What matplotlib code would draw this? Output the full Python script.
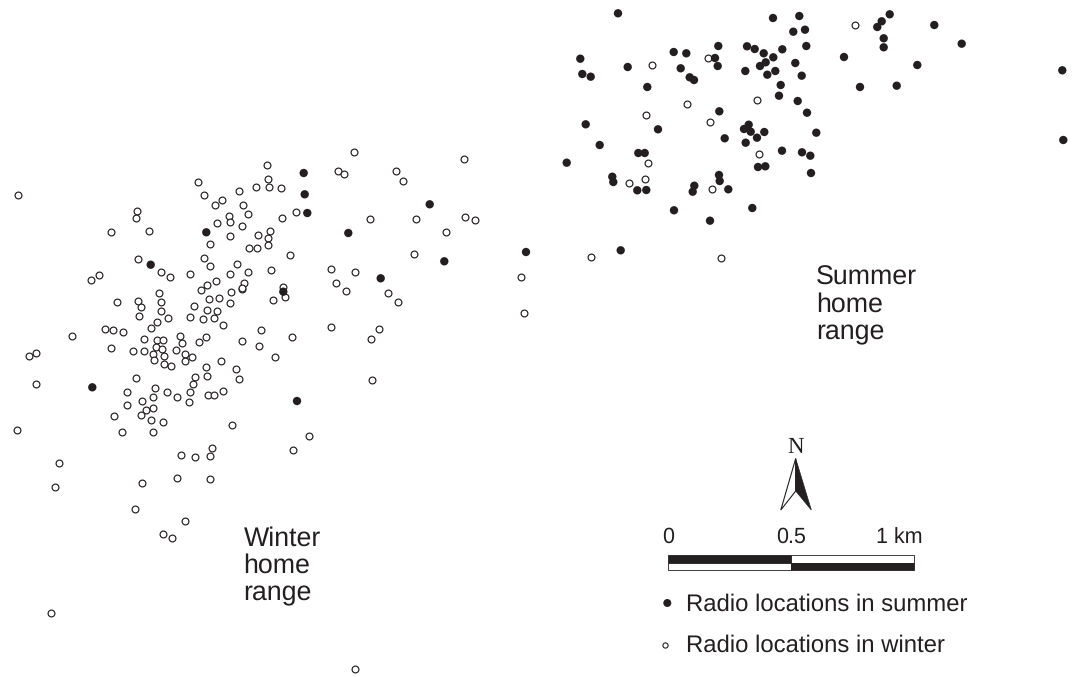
import matplotlib
matplotlib.use('Agg')
import matplotlib.pyplot as plt
from matplotlib.patches import Polygon, Rectangle

# radio locations (image pixels, y pointing down)
winter_x = [18.3, 197.7, 204.3, 215.3, 222, 239.3, 255.7, 266.5, 268.3, 268.5, 243, 248, 229, 230, 217, 241.7, 230,
            209.7, 258, 269.5, 268, 268.3, 249.3, 257.3, 137, 136.3, 111.3, 148.7, 138, 161.3, 170.3, 189.7, 203.7,
            210.3, 236.7, 230, 247.7, 270.5, 216.3, 207.3, 201, 243.7, 242.3, 242, 231, 209.3, 218.7, 230, 99.3, 90.7,
            158.7, 117, 138.3, 161.3, 141.3, 193.7, 207.3, 217.3, 161.3, 168.3, 139.3, 190, 203.3, 213.7, 222.7,
            157, 150.7, 105.3, 112.7, 123.3, 72.3, 261, 241.5, 258.7, 206.3, 198.7, 180.3, 181.7, 144.3, 157.3, 163,
            156.3, 162.3, 110.7, 133, 144.3, 152.7, 154, 164.3, 163.7, 171.3, 176.3, 185, 192, 185, 221, 36.3, 29.3,
            36, 206, 207, 236.3, 238.7, 195, 192.7, 190, 136.3, 154.7, 126.7, 152.7, 167, 176.7, 207.7, 213.7, 222.7,
            189, 141.7, 126.7, 153, 145.7, 141, 114, 150.7, 162.7, 122.3, 153, 231.7, 17.3, 212.3, 181.3, 195, 210.3,
            59.3, 354.3, 464.3, 337.7, 343.7, 395.7, 403.3, 280.7, 296, 281.7, 370.3, 416, 464.7, 475.3, 446, 290.3,
            413.7, 331.3, 355, 335.7, 345.7, 387.7, 398, 521.3, 283.3, 284.7, 273, 524.3, 292, 331.3, 379, 371.3,
            274.7, 372.3, 308.7, 293.3, 55, 177.3, 210.3, 142, 134.7, 185, 163.3, 171.7, 51, 354.7,
            707.7, 651.7, 757, 686.7, 646, 710, 759.3, 647.7, 645, 629, 712, 591.3, 720.7, 855]
winter_y = [195, 181.7, 194.7, 205.3, 200.3, 190.7, 187.3, 165, 178.8, 186.7, 205, 214, 216.3, 222, 223, 226.3, 236.3,
            244.3, 235, 231, 237.5, 245, 248.3, 248.3, 210.7, 218, 231.7, 231.3, 259, 271.7, 277.3, 274, 257.7,
            265.7, 263.7, 274.3, 272.3, 270.3, 281.3, 285.3, 290, 283, 288.7, 288, 292, 299, 298.3, 303, 274.7, 280.3,
            293, 301.7, 301.3, 302.3, 307.3, 306.3, 310, 310.5, 311, 317.7, 315.7, 316.7, 319.3, 318.3, 325.3,
            321.7, 328.3, 329, 330, 331.7, 336, 329.5, 341.2, 345.7, 336.7, 342.3, 336, 342.7, 338.7, 340, 340.3,
            347.3, 349, 348.3, 351, 351, 354, 360, 356, 364, 366, 350, 353.7, 357, 361.3, 361, 352.7, 356.3,
            384.3, 366.7, 375.7, 369, 379.3, 377.3, 384, 392, 377.7, 388, 392.3, 396.7, 392, 396.7, 395, 395, 391.3,
            402, 401, 404.7, 408, 409.7, 415, 415.7, 419.7, 422.3, 432.4, 431.5, 425.3, 430, 447.7, 454.7, 456.7, 456.3,
            463.3, 152.3, 159, 171.3, 174, 170.7, 181, 187.7, 212, 217.7, 219, 218.7, 216.7, 220, 231.7, 254.7,
            254, 268.7, 271.7, 283.3, 291.3, 292.7, 302.2, 276.7, 287, 296.7, 300.2, 313, 337.3, 327, 328.7, 338.7,
            357.3, 380.3, 436, 449.7, 486.7, 478, 479.3, 483, 509.3, 520.7, 533.7, 537.7, 613, 669.3,
            57.7, 64.7, 100.3, 103.7, 115.3, 122.3, 153.7, 162.7, 178.7, 183.3, 188.7, 256.7, 258, 25]

summer_x = [206.3, 150.7, 92.3, 303.7, 304.7, 307.3, 348.3, 429.7, 444.3, 380.7, 526, 283.3, 297,
            618, 773, 799.3, 793.3, 805, 718.3, 673.7, 686.3, 715, 747, 754.7, 763.7, 782.3, 806.3, 773.3, 765.7,
            760, 795.3, 580.3, 582.3, 590.7, 627.7, 680.7, 717.7, 745.3, 767.3, 775.3, 801.7, 689.7, 694, 647.3,
            780.7, 779, 797.7, 807, 719.3, 585.7, 658, 748.7, 744, 750.7, 764.3, 757, 724.7, 745.7, 816.3, 599.7,
            638.3, 644.7, 566.7, 782, 802, 810.3, 811, 758, 765.3, 612.3, 613.3, 637.3, 646.3, 694.3, 692.7, 719,
            719.7, 728.3, 674, 752.3, 710, 620.7, 889.7, 881.7, 877.3, 934.3, 883.7, 883.7, 961.7, 844, 917.3,
            1062.3, 860, 896.7, 1063.3]
summer_y = [232.3, 264.7, 387.3, 173, 194.3, 213, 233, 204.3, 261.3, 278.3, 252, 291.7, 401,
            13.3, 18, 16, 31.7, 29.7, 46, 52, 53.3, 58, 46.3, 49, 53.3, 49.3, 46, 57.3, 62.3,
            66, 63, 58.7, 74, 76.7, 67, 68.3, 66, 71, 74.7, 71, 75.7, 77.3, 80, 87,
            85, 95.7, 101, 112.7, 111.3, 124.3, 129.3, 124.7, 129, 131.7, 132, 137.7, 138.3, 142.7, 132.7, 145,
            153, 153, 162.7, 150.7, 152.3, 155.7, 173, 167, 166.3, 176.7, 182, 190.3, 190, 185.7, 191.7, 175,
            181, 189.3, 210.3, 208, 220.7, 250.3, 14.3, 21.3, 27, 25, 38.3, 47.3, 43.7, 57, 65,
            70.3, 87, 85.7, 140]

area_labels = ['Winter\nhome\nrange', 'Summer\nhome\nrange']
scale_labels = ['0', '0.5', '1 km']
legend_labels = ['Radio locations in summer', 'Radio locations in winter']

ink = '#231f20'
plt.rcParams['font.family'] = ['Liberation Sans', 'DejaVu Sans']
plt.rcParams['text.hinting'] = 'none'

fig = plt.figure(figsize=(10.78, 6.77), dpi=100)
ax = fig.add_axes([0, 0, 1, 1])
ax.set_xlim(0, 1078)
ax.set_ylim(677, 0)
ax.axis('off')

ax.scatter(winter_x, winter_y, s=24, facecolor='white', edgecolor=ink, linewidth=0.85, zorder=2)
ax.scatter(summer_x, summer_y, s=36, facecolor=ink, edgecolor='none', zorder=3)

# home range labels
for (x, y), label in zip([(243.5, 546), (816, 285)], area_labels):
    for i, line in enumerate(label.split('\n')):
        ax.text(x, y + 27 * i, line, fontsize=19.3, color=ink, va='baseline', ha='left')

# north arrow
ax.add_patch(Polygon([(795.7, 458.5), (780.8, 510), (795.7, 491)], closed=True, facecolor='white', edgecolor=ink, linewidth=0.8, joinstyle='miter'))
ax.add_patch(Polygon([(795.7, 458.5), (811.3, 510), (795.7, 491)], closed=True, facecolor=ink, edgecolor=ink, linewidth=0.5))
ax.text(795.7, 453, 'N', family=['Liberation Serif'], fontsize=16.5, color=ink, ha='center', va='baseline')

# scale bar
ax.add_patch(Rectangle((668.3, 554.5), 122.7, 8, facecolor=ink, edgecolor=ink, linewidth=0.6))
ax.add_patch(Rectangle((791, 554.5), 122.7, 8, facecolor='white', edgecolor=ink, linewidth=0.6))
ax.add_patch(Rectangle((668.3, 562.5), 122.7, 7.5, facecolor='white', edgecolor=ink, linewidth=0.6))
ax.add_patch(Rectangle((791, 562.5), 122.7, 7.5, facecolor=ink, edgecolor=ink, linewidth=0.6))
for x, label, ha in zip([667.8, 791, 922.5], scale_labels, ['center', 'center', 'right']):
    ax.text(x, 543, label, fontsize=15.5, color=ink, ha=ha, va='baseline')

# legend
ax.scatter([667.3], [603], s=33, facecolor=ink, edgecolor='none')
ax.scatter([665], [644.5], s=14, facecolor='white', edgecolor=ink, linewidth=0.8)
ax.text(686.5, 611, legend_labels[0], fontsize=17.2, color=ink, va='baseline')
ax.text(686.5, 652, legend_labels[1], fontsize=17.2, color=ink, va='baseline')

fig.savefig('out.png', dpi=100)
